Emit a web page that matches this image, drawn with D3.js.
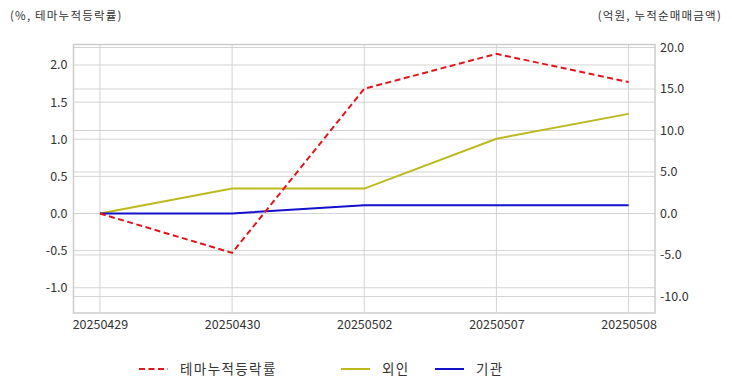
<!DOCTYPE html>
<html>
<head>
<meta charset="utf-8">
<script src="https://cdn.jsdelivr.net/npm/d3@7"></script>
<style>
  body { margin: 0; background: #fff; }
  text { font-family: "Noto Sans CJK KR", "Noto Sans", sans-serif; fill: #333; }
</style>
</head>
<body>
<div id="chart-area"></div>
<script>
// data
var dates = ["20250429", "20250430", "20250502", "20250507", "20250508"];
var themeRate = [0.0, -0.53, 1.68, 2.15, 1.77];   // left axis, %
var foreign = [0.0, 3.0, 3.0, 9.0, 12.0];          // right axis, 억원
var institution = [0.0, 0.0, 1.0, 1.0, 1.0];       // right axis, 억원
var leftTicks = [-1.0, -0.5, 0.0, 0.5, 1.0, 1.5, 2.0];
var rightTicks = [-10, -5, 0, 5, 10, 15, 20];

var W = 732, H = 392;
var plot = { left: 73.5, right: 655, top: 44.5, bottom: 313 };

var svg = d3.select("#chart-area")
    .append("svg")
        .attr("width", W)
        .attr("height", H);

// scales
var x = d3.scaleLinear()
    .domain([-0.2, dates.length - 1 + 0.2])
    .range([plot.left, plot.right]);

var yL = d3.scaleLinear()
    .domain([-1.34, 2.276])
    .range([plot.bottom, plot.top]);

var yR = d3.scaleLinear()
    .domain([-11.99, 20.36])
    .range([plot.bottom, plot.top]);

var grid = svg.append("g").attr("class", "grid");

// horizontal grid, both axes
grid.selectAll("line.gl")
    .data(leftTicks)
    .enter().append("line")
        .attr("x1", plot.left).attr("x2", plot.right)
        .attr("y1", function(d){ return yL(d); })
        .attr("y2", function(d){ return yL(d); })
        .attr("stroke", "#d3d3d3");

grid.selectAll("line.gr")
    .data(rightTicks)
    .enter().append("line")
        .attr("x1", plot.left).attr("x2", plot.right)
        .attr("y1", function(d){ return yR(d); })
        .attr("y2", function(d){ return yR(d); })
        .attr("stroke", "#d3d3d3");

// vertical grid
grid.selectAll("line.gx")
    .data(dates)
    .enter().append("line")
        .attr("x1", function(d, i){ return x(i); })
        .attr("x2", function(d, i){ return x(i); })
        .attr("y1", plot.top).attr("y2", plot.bottom)
        .attr("stroke", "#d3d3d3");

// frame
svg.append("rect")
    .attr("x", plot.left).attr("y", plot.top)
    .attr("width", plot.right - plot.left)
    .attr("height", plot.bottom - plot.top)
    .attr("fill", "none")
    .attr("stroke", "#cccccc")
    .attr("stroke-width", 1.5);

// axes
var fmt = function(d){ return d.toFixed(1); };

var leftAxis = svg.append("g")
    .attr("transform", "translate(" + plot.left + ",0)")
    .call(d3.axisLeft(yL).tickValues(leftTicks).tickFormat(fmt).tickSize(0).tickPadding(6));

var rightAxis = svg.append("g")
    .attr("transform", "translate(" + plot.right + ",0)")
    .call(d3.axisRight(yR).tickValues(rightTicks).tickFormat(fmt).tickSize(0).tickPadding(5));

var xAxis = svg.append("g")
    .attr("transform", "translate(0," + plot.bottom + ")")
    .call(d3.axisBottom(x).tickValues(d3.range(dates.length))
        .tickFormat(function(i){ return dates[i]; }).tickSize(0).tickPadding(7));

[leftAxis, rightAxis, xAxis].forEach(function(a){
    a.select(".domain").remove();
    a.selectAll("text")
        .attr("font-size", "12.5px")
        .attr("font-family", "\"Noto Sans CJK KR\", sans-serif")
        .attr("fill", "#333");
});

// axis titles
svg.append("text")
    .attr("x", 10).attr("y", 20)
    .attr("font-size", "11.5px")
    .attr("letter-spacing", "1.2px")
    .text("(%, 테마누적등락률)");

svg.append("text")
    .attr("x", 722).attr("y", 20)
    .attr("text-anchor", "end")
    .attr("font-size", "11.5px")
    .attr("letter-spacing", "1.2px")
    .text("(억원, 누적순매매금액)");

// lines
var lineL = d3.line()
    .x(function(d, i){ return x(i); })
    .y(function(d){ return yL(d); });

var lineR = d3.line()
    .x(function(d, i){ return x(i); })
    .y(function(d){ return yR(d); });

svg.append("path")
    .datum(foreign)
    .attr("d", lineR)
    .attr("fill", "none")
    .attr("stroke", "#bdb81c")
    .attr("stroke-width", 2);

svg.append("path")
    .datum(institution)
    .attr("d", lineR)
    .attr("fill", "none")
    .attr("stroke", "#1212cc")
    .attr("stroke-width", 2);

svg.append("path")
    .datum(themeRate)
    .attr("d", lineL)
    .attr("fill", "none")
    .attr("stroke", "#e0161b")
    .attr("stroke-width", 2)
    .attr("stroke-dasharray", "6,3.5");

// legend
var legendItems = [
    { name: "테마누적등락률", color: "#e0161b", dash: "6,3.5", x: 139 },
    { name: "외인", color: "#bdb81c", dash: null, x: 341 },
    { name: "기관", color: "#1212cc", dash: null, x: 435 }
];

var legend = svg.append("g");
legendItems.forEach(function(d){
    legend.append("line")
        .attr("x1", d.x).attr("x2", d.x + 29)
        .attr("y1", 369).attr("y2", 369)
        .attr("stroke", d.color)
        .attr("stroke-width", 2)
        .attr("stroke-dasharray", d.dash);
    legend.append("text")
        .attr("x", d.x + 41).attr("y", 374)
        .attr("font-size", "13.5px")
        .attr("letter-spacing", "1.4px")
        .text(d.name);
});
</script>
</body>
</html>
